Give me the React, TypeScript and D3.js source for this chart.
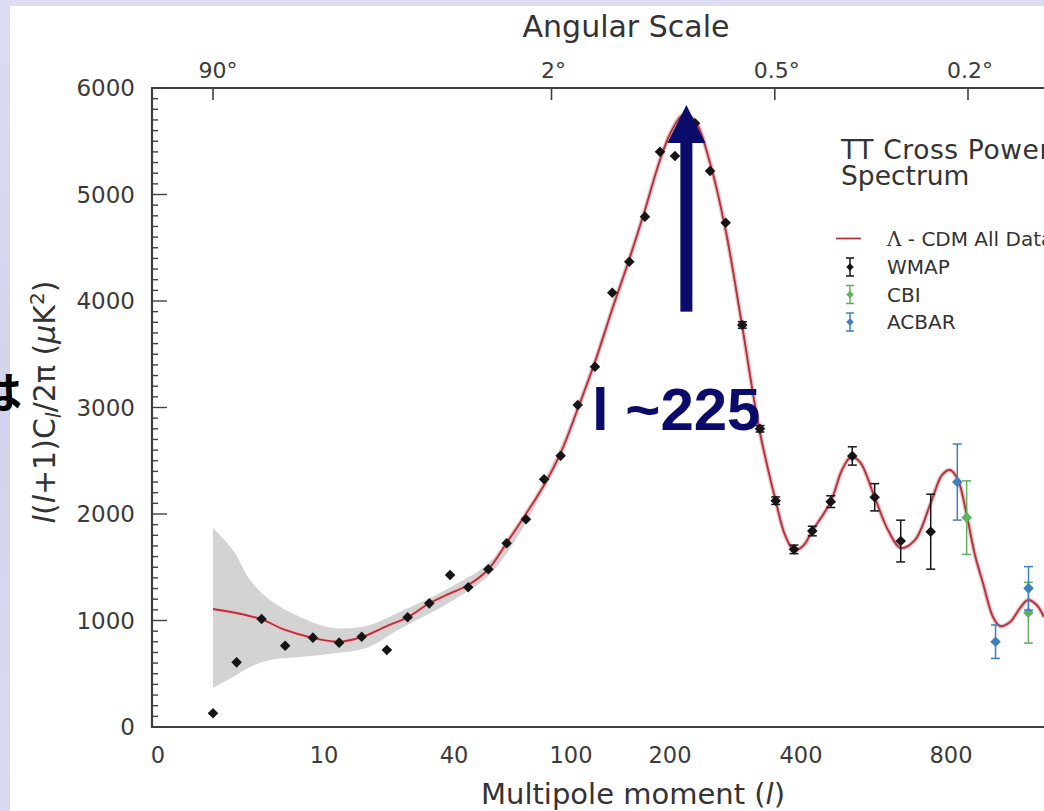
import React from 'react';
import * as d3 from 'd3';

const WIDTH = 1044;
const HEIGHT = 811;

// Multipole moments labelled along the bottom edge
const multipoleTicks = [0, 10, 40, 100, 200, 400, 800];
// Angular scales (degrees) marked along the top edge; l ≈ 180° / θ
const angleTicks = [90, 2, 0.5, 0.2];
const angleLabels = ['90°', '2°', '0.5°', '0.2°'];
// Power axis
const powerTicks = [0, 1000, 2000, 3000, 4000, 5000, 6000];

// Best-fit Λ-CDM model spectrum (l, μK²)
const modelL = [2.0, 3.7, 5.5, 7.2, 9.2, 13.5, 18.7, 24.5, 29.3, 34.3, 39.1, 47.3, 57.6, 67.0, 76.9, 86.2, 94.9, 107.1, 124.2, 141.4, 158.6, 174.7, 188.9, 201.5, 219.8, 238.2, 261.1, 285.5, 309.9, 336.6, 361.8, 375.6, 389.3, 405.3, 430.1, 479.2, 509.3, 533.3, 557.3, 596.5, 632.0, 665.9, 704.0, 745.9, 776.0, 797.3, 841.2, 892.4, 941, 988, 1047, 1088, 1147, 1206, 1253, 1304, 1347];
const modelPower = [1108, 1070, 1011, 911, 836, 801, 845, 948, 1030, 1162, 1255, 1333, 1481, 1728, 2000, 2272, 2582, 2995, 3427, 3916, 4385, 4854, 5296, 5587, 5746, 5690, 5296, 4648, 3775, 2789, 2113, 1803, 1662, 1700, 1840, 2116, 2413, 2535, 2488, 2157, 1850, 1681, 1756, 2103, 2366, 2413, 2319, 1991, 1615, 1352, 1033, 948, 986, 1117, 1192, 1146, 1033];

// Cosmic-variance band around the model at low multipoles
const bandL = [2, 3.44, 4.67, 6.11, 8.27, 12.1, 19.9, 27.5, 40, 60, 90, 120];
const bandLow = [366, 469, 563, 629, 657, 690, 745, 920, 1195, 1465, 2370, 3300];
const bandHigh = [1869, 1662, 1380, 1192, 1033, 930, 950, 1080, 1330, 1580, 2450, 3340];

// WMAP binned spectrum
const wmapL = [2.0, 3.7, 5.5, 7.2, 9.2, 13.5, 18.7, 24.5, 29.3, 34.3, 39.1, 47.3, 57.6, 67.0, 76.9, 86.2, 94.7, 106.8, 124.2, 141.7, 158.9, 174.7, 189.9, 207.6, 238.2, 261.1, 285.0, 310.4, 337.4, 361.4, 389.3, 430.1, 479.2, 536.8, 596.5, 665.9, 745.9];
const wmapPower = [129, 607, 1014, 763, 839, 792, 848, 723, 1030, 1161, 1427, 1312, 1481, 1725, 1950, 2326, 2547, 3023, 3383, 4078, 4369, 4792, 5402, 5361, 5668, 5221, 4735, 3775, 2800, 2125, 1668, 1840, 2116, 2545, 2157, 1746, 1834];
const wmapError = [0, 0, 0, 0, 0, 0, 0, 0, 0, 0, 0, 0, 0, 0, 0, 0, 0, 0, 0, 0, 0, 0, 0, 0, 0, 0, 0, 30, 30, 35, 40, 45, 55, 86, 128, 196, 352];

// CBI
const cbiL = [892, 1255];
const cbiPower = [1966, 1073];
const cbiError = [345, 285];

// ACBAR
const acbarL = [837, 1062, 1256];
const acbarPower = [2300, 801, 1302];
const acbarError = [357, 157, 204];

// First acoustic peak
const PEAK_L = 225;
const ARROW_FROM = 3900;
const ARROW_TO = 5840;

const CHART_FONT = '"DejaVu Sans", sans-serif';
const SLIDE_FONT = '"Liberation Sans", Arial, sans-serif';
const NAVY = '#0b0b6b';
const MODEL_RED = '#b3323e';
const WMAP_COLOR = '#151515';
const CBI_COLOR = '#5fb060';
const ACBAR_COLOR = '#3f7fbd';
const AXIS_COLOR = '#404040';
const TEXT_COLOR = '#3a3a3a';

// Frame of the plotting area
const PLOT_LEFT = 152;
const PLOT_TOP = 88;
const PLOT_BOTTOM = 727;

// The multipole axis is stretched non-uniformly; these breakpoints define it
const L_BREAKS = [0, 2, 10, 40, 100, 200, 400, 800, 900];
const L_RANGE = [158, 213, 324, 454, 571, 670, 801, 951, 968];

const diamond = d3.symbol().type(d3.symbolSquare).size(56)() as string;
const smallDiamond = d3.symbol().type(d3.symbolSquare).size(28)() as string;

type Series = { l: number[]; p: number[]; e: number[]; color: string };

export default function App() {
  const x = d3.scaleLinear().domain(L_BREAKS).range(L_RANGE);
  const y = d3.scaleLinear().domain([0, 6000]).range([PLOT_BOTTOM, PLOT_TOP]);

  const modelPath = d3
    .line<number>()
    .x((i) => x(modelL[i]))
    .y((i) => y(modelPower[i]))
    .curve(d3.curveCatmullRom.alpha(0.5))(d3.range(modelL.length)) as string;

  const bandPath = d3
    .area<number>()
    .x((i) => x(bandL[i]))
    .y0((i) => y(bandLow[i]))
    .y1((i) => y(bandHigh[i]))
    .curve(d3.curveCatmullRom.alpha(0.5))(d3.range(bandL.length)) as string;

  const series: Series[] = [
    { l: wmapL, p: wmapPower, e: wmapError, color: WMAP_COLOR },
    { l: cbiL, p: cbiPower, e: cbiError, color: CBI_COLOR },
    { l: acbarL, p: acbarPower, e: acbarError, color: ACBAR_COLOR },
  ];

  const minorTicks = d3.range(0, 6001, 100);

  const arrowX = x(PEAK_L);
  const arrowTip = y(ARROW_TO);
  const arrowBase = y(ARROW_FROM);
  const headLen = 38;
  const headHalf = 19;
  const shaftHalf = 6;

  const legendItems = [
    { label: 'WMAP', color: WMAP_COLOR },
    { label: 'CBI', color: CBI_COLOR },
    { label: 'ACBAR', color: ACBAR_COLOR },
  ];

  return (
    <svg
      width={WIDTH}
      height={HEIGHT}
      viewBox={`0 0 ${WIDTH} ${HEIGHT}`}
      style={{ position: 'absolute', left: 0, top: 0, display: 'block' }}
    >
      <defs>
        <linearGradient id="slideBg" x1="0" y1="0" x2="0" y2="1">
          <stop offset="0" stopColor="#dcdcf3" />
          <stop offset="0.5" stopColor="#d2d2ee" />
          <stop offset="1" stopColor="#dadaf2" />
        </linearGradient>
      </defs>

      {/* slide background and the white figure panel */}
      <rect x={0} y={0} width={WIDTH} height={HEIGHT} fill="url(#slideBg)" />
      <rect x={10} y={6} width={WIDTH - 10} height={HEIGHT - 6} fill="#ffffff" />

      {/* cosmic variance band */}
      <path d={bandPath} fill="#d3d3d3" />

      {/* model curve */}
      <path d={modelPath} fill="none" stroke="#ebc3c6" strokeWidth={4.5} />
      <path d={modelPath} fill="none" stroke={MODEL_RED} strokeWidth={1.9} />

      {/* error bars and points */}
      {series.map((s, si) => (
        <g key={si}>
          {s.l.map((l, i) => {
            const cx = x(l);
            const cy = y(s.p[i]);
            const err = s.e[i];
            return (
              <g key={i}>
                {err > 0 && (
                  <g stroke={s.color} strokeWidth={1.5}>
                    <line x1={cx} x2={cx} y1={y(s.p[i] - err)} y2={y(s.p[i] + err)} />
                    <line x1={cx - 4.5} x2={cx + 4.5} y1={y(s.p[i] - err)} y2={y(s.p[i] - err)} />
                    <line x1={cx - 4.5} x2={cx + 4.5} y1={y(s.p[i] + err)} y2={y(s.p[i] + err)} />
                  </g>
                )}
                <path d={diamond} transform={`translate(${cx},${cy}) rotate(45)`} fill={s.color} />
              </g>
            );
          })}
        </g>
      ))}

      {/* frame */}
      <g stroke={AXIS_COLOR} strokeWidth={2.2} fill="none">
        <line x1={PLOT_LEFT} x2={PLOT_LEFT} y1={PLOT_TOP - 1} y2={PLOT_BOTTOM + 1} />
        <line x1={PLOT_LEFT - 1} x2={WIDTH} y1={PLOT_TOP} y2={PLOT_TOP} />
        <line x1={PLOT_LEFT - 1} x2={WIDTH} y1={PLOT_BOTTOM} y2={PLOT_BOTTOM} />
      </g>

      {/* power axis ticks */}
      <g stroke={AXIS_COLOR} strokeWidth={1.4}>
        {minorTicks.map((v) => (
          <line key={v} x1={PLOT_LEFT} x2={PLOT_LEFT + (v % 1000 === 0 ? 15 : 6)} y1={y(v)} y2={y(v)} />
        ))}
      </g>
      <g fontFamily={CHART_FONT} fontSize={23} fill={TEXT_COLOR} textAnchor="end">
        {powerTicks.map((v) => (
          <text key={v} x={135} y={y(v)} dy="0.36em">
            {v}
          </text>
        ))}
      </g>

      {/* multipole labels */}
      <g fontFamily={CHART_FONT} fontSize={22.5} fill={TEXT_COLOR} textAnchor="middle">
        {multipoleTicks.map((l) => (
          <text key={l} x={x(l)} y={763}>
            {l}
          </text>
        ))}
      </g>

      {/* angular scale ticks */}
      <g stroke={AXIS_COLOR} strokeWidth={1.6}>
        {angleTicks.map((a) => (
          <line key={a} x1={x(180 / a)} x2={x(180 / a)} y1={PLOT_TOP} y2={PLOT_TOP + 12} />
        ))}
      </g>
      <g fontFamily={CHART_FONT} fontSize={22} fill={TEXT_COLOR} textAnchor="middle">
        {angleTicks.map((a, i) => (
          <text key={a} x={x(180 / a)} dx={i === 0 ? 5 : 2} y={78}>
            {angleLabels[i]}
          </text>
        ))}
      </g>

      {/* axis titles */}
      <text x={626} y={37} fontFamily={CHART_FONT} fontSize={30} fill="#333" textAnchor="middle">
        Angular Scale
      </text>
      <text x={633} y={804} fontFamily={CHART_FONT} fontSize={29} fill="#333" textAnchor="middle">
        Multipole moment (<tspan fontStyle="italic">l</tspan>)
      </text>
      <text transform="translate(55,402) rotate(-90)" fontFamily={CHART_FONT} fontSize={30} fill="#333" textAnchor="middle">
        <tspan fontStyle="italic">l</tspan>(<tspan fontStyle="italic">l</tspan>+1)C
        <tspan fontStyle="italic" fontSize={21} dy={6}>l</tspan>
        <tspan dy={-6}>/2π (</tspan>
        <tspan fontStyle="italic">μ</tspan>K
        <tspan fontSize={20} dy={-11}>2</tspan>
        <tspan dy={11}>)</tspan>
      </text>

      {/* legend */}
      <g fontFamily={CHART_FONT} fill="#333">
        <text x={841} y={159} fontSize={26.5} letterSpacing={0.6}>TT Cross Power</text>
        <text x={841} y={185} fontSize={26.5}>Spectrum</text>
        <line x1={836} x2={861} y1={238.5} y2={238.5} stroke={MODEL_RED} strokeWidth={1.8} />
        <text x={887} y={246} fontSize={20}>
          <tspan fontFamily='"DejaVu Serif", serif'>Λ</tspan> - CDM All Data
        </text>
        {legendItems.map((item, i) => {
          const cy = 267 + i * 27.5;
          return (
            <g key={item.label}>
              <g stroke={item.color} strokeWidth={1.5}>
                <line x1={850} x2={850} y1={cy - 9} y2={cy + 9} />
                <line x1={846} x2={854} y1={cy - 9} y2={cy - 9} />
                <line x1={846} x2={854} y1={cy + 9} y2={cy + 9} />
              </g>
              <path d={smallDiamond} transform={`translate(850,${cy}) rotate(45)`} fill={item.color} />
              <text x={887} y={cy + 7.3} fontSize={20}>
                {item.label}
              </text>
            </g>
          );
        })}
      </g>

      {/* peak annotation */}
      <g fill={NAVY}>
        <rect x={arrowX - shaftHalf} y={arrowTip + headLen - 1} width={shaftHalf * 2} height={arrowBase - arrowTip - headLen + 1} />
        <path d={`M${arrowX},${arrowTip} L${arrowX + headHalf},${arrowTip + headLen} L${arrowX - headHalf},${arrowTip + headLen} Z`} />
        <text x={592} y={430} fontFamily={SLIDE_FONT} fontWeight={700} fontSize={60}>
          {`l ~${PEAK_L}`}
        </text>
      </g>

      <text x={-22} y={409} fontFamily='"Noto Sans CJK JP", sans-serif' fontWeight={700} fontSize={44} fill="#000">
        は
      </text>
    </svg>
  );
}
